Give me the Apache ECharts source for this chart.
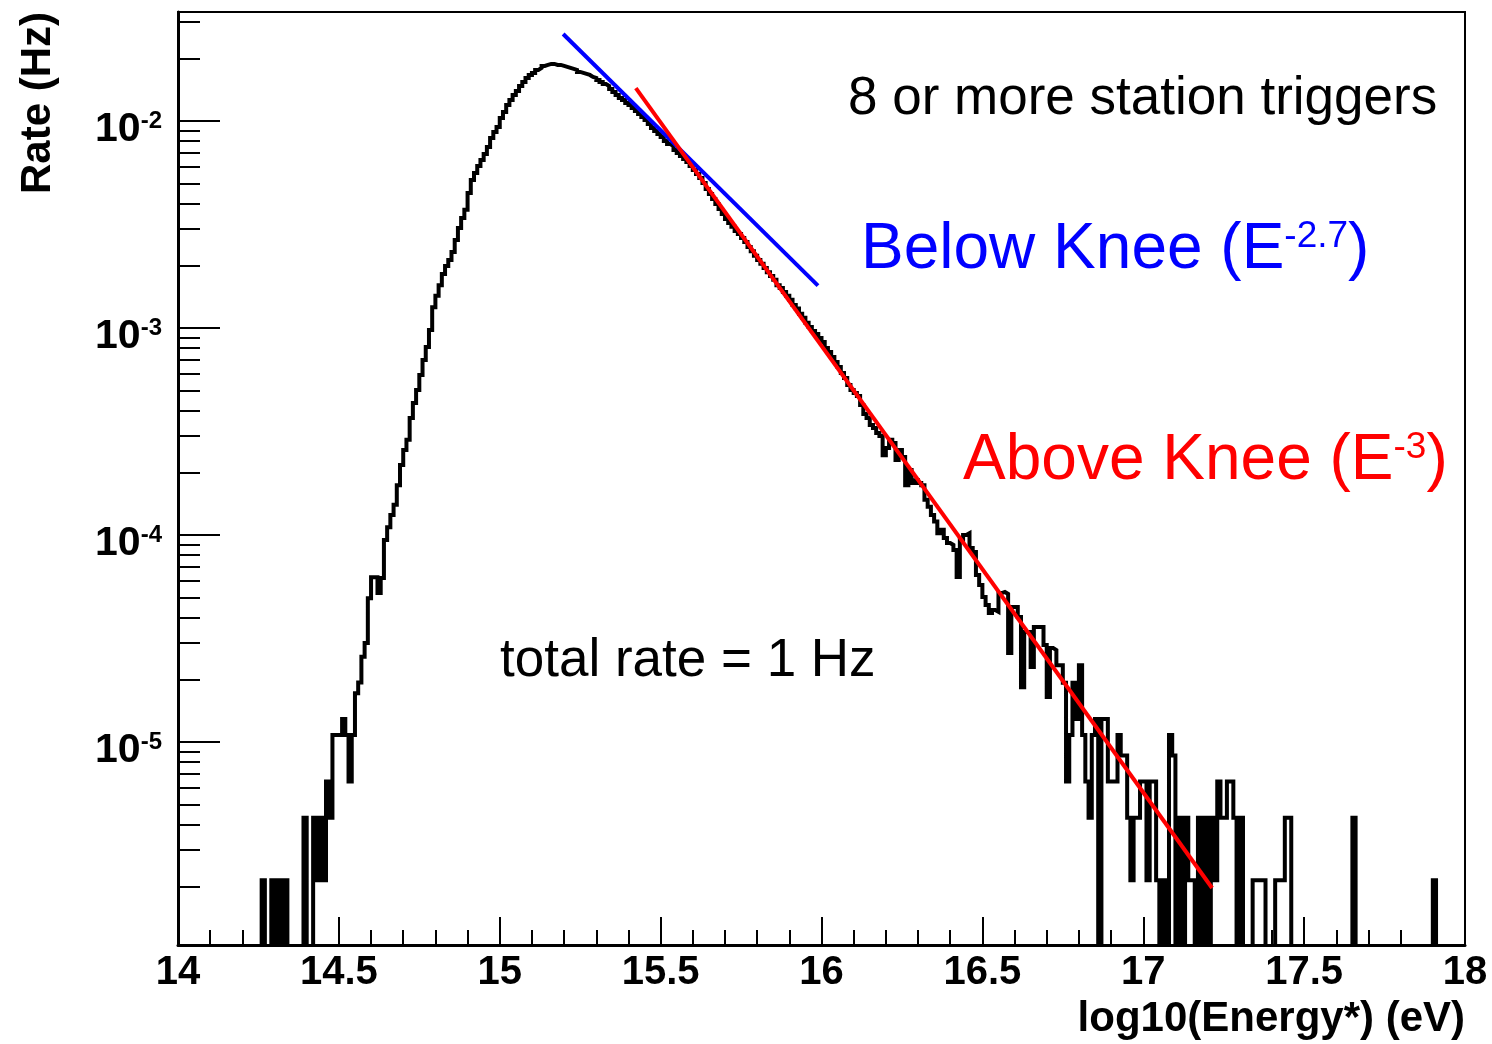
<!DOCTYPE html>
<html>
<head>
<meta charset="utf-8">
<title>Rate vs log10(Energy*)</title>
<script src="https://cdn.jsdelivr.net/npm/echarts@6/dist/echarts.min.js"></script>
<style>
  html, body { margin: 0; padding: 0; background: #fff; }
  #chart { width: 1492px; height: 1044px; }
</style>
</head>
<body>
<div id="chart"></div>
<script>
// histogram binning in log10(E): 400 bins of 0.01 from 14 to 18
const binStart = 14
const binWidth = 0.01

// rate (Hz) per bin, one array per unit of log10(E); 0 = empty bin
const rate14 = [
  0, 0, 0, 0, 0, 0, 0, 0, 0, 0,
  0, 0, 0, 0, 0, 0, 0, 0, 0, 0,
  0, 0, 0, 0, 0, 0, 2.15e-6, 0, 0, 2.15e-6,
  0, 2.15e-6, 0, 2.15e-6, 0, 0, 0, 0, 0, 4.3e-6,
  0, 0, 4.3e-6, 2.15e-6, 4.3e-6, 2.15e-6, 6.45e-6, 4.3e-6, 1.08e-5, 1.08e-5,
  1.08e-5, 1.29e-5, 1.08e-5, 6.45e-6, 1.08e-5, 1.72e-5, 1.94e-5, 2.58e-5, 3.01e-5, 4.95e-5,
  6.24e-5, 6.24e-5, 5.24e-5, 6.2e-5, 9.46e-5, 1.09e-4, 1.25e-4, 1.4e-4, 1.74e-4, 2.18e-4,
  2.57e-4, 2.88e-4, 3.67e-4, 4.34e-4, 5.02e-4, 5.93e-4, 7.0e-4, 8.09e-4, 9.78e-4, 1.26e-3,
  1.43e-3, 1.61e-3, 1.82e-3, 1.99e-3, 2.13e-3, 2.33e-3, 2.66e-3, 3.04e-3, 3.4e-3, 3.72e-3,
  4.49e-3, 5.19e-3, 5.61e-3, 6.06e-3, 6.48e-3, 6.93e-3, 7.49e-3, 8.28e-3, 8.85e-3, 9.35e-3
]
const rate15 = [
  1.034e-2, 1.105e-2, 1.195e-2, 1.263e-2, 1.335e-2, 1.396e-2, 1.476e-2, 1.543e-2, 1.614e-2, 1.668e-2,
  1.706e-2, 1.764e-2, 1.803e-2, 1.844e-2, 1.865e-2, 1.886e-2, 1.886e-2, 1.865e-2, 1.865e-2, 1.844e-2,
  1.824e-2, 1.803e-2, 1.783e-2, 1.764e-2, 1.725e-2, 1.706e-2, 1.687e-2, 1.668e-2, 1.632e-2, 1.614e-2,
  1.578e-2, 1.543e-2, 1.509e-2, 1.476e-2, 1.427e-2, 1.381e-2, 1.335e-2, 1.292e-2, 1.263e-2, 1.222e-2,
  1.195e-2, 1.156e-2, 1.118e-2, 1.081e-2, 1.045e-2, 1.011e-2, 9.67e-3, 9.25e-3, 8.95e-3, 8.65e-3,
  8.37e-3, 8.0e-3, 7.74e-3, 7.57e-3, 7.24e-3, 7.0e-3, 6.78e-3, 6.55e-3, 6.34e-3, 6.06e-3,
  5.8e-3, 5.55e-3, 5.3e-3, 5.02e-3, 4.69e-3, 4.44e-3, 4.2e-3, 3.97e-3, 3.76e-3, 3.55e-3,
  3.36e-3, 3.21e-3, 3.08e-3, 2.94e-3, 2.84e-3, 2.72e-3, 2.6e-3, 2.46e-3, 2.35e-3, 2.23e-3,
  2.13e-3, 2.04e-3, 1.95e-3, 1.86e-3, 1.78e-3, 1.71e-3, 1.61e-3, 1.56e-3, 1.49e-3, 1.43e-3,
  1.37e-3, 1.29e-3, 1.24e-3, 1.17e-3, 1.12e-3, 1.06e-3, 1.01e-3, 9.67e-4, 9.35e-4, 8.95e-4
]
const rate16 = [
  8.56e-4, 8.0e-4, 7.66e-4, 7.24e-4, 6.85e-4, 6.48e-4, 6.06e-4, 5.73e-4, 5.3e-4, 5.02e-4,
  4.85e-4, 4.69e-4, 4.25e-4, 3.84e-4, 3.67e-4, 3.4e-4, 3.29e-4, 3.11e-4, 3.01e-4, 2.43e-4,
  2.63e-4, 2.88e-4, 2.78e-4, 2.3e-4, 2.57e-4, 2.38e-4, 1.74e-4, 2.06e-4, 1.78e-4, 1.84e-4,
  1.78e-4, 1.74e-4, 1.48e-4, 1.37e-4, 1.25e-4, 1.16e-4, 1.02e-4, 1.06e-4, 9.67e-5, 9.15e-5,
  8.95e-5, 8.46e-5, 6.27e-5, 9.46e-5, 1.0e-4, 1.02e-4, 8.65e-5, 8.28e-5, 6.41e-5, 5.73e-5,
  5.02e-5, 4.59e-5, 4.2e-5, 4.34e-5, 4.25e-5, 5.24e-5, 5.3e-5, 5.19e-5, 2.69e-5, 4.49e-5,
  4.49e-5, 4.02e-5, 1.84e-5, 3.4e-5, 3.4e-5, 2.3e-5, 3.59e-5, 3.59e-5, 3.59e-5, 2.94e-5,
  1.65e-5, 2.84e-5, 2.78e-5, 2.35e-5, 2.35e-5, 1.93e-5, 6.45e-6, 1.08e-5, 1.93e-5, 1.29e-5,
  2.35e-5, 1.08e-5, 6.45e-6, 4.3e-6, 1.08e-5, 1.29e-5, 0, 1.29e-5, 1.29e-5, 6.45e-6,
  6.45e-6, 6.45e-6, 1.08e-5, 8.6e-6, 8.6e-6, 4.3e-6, 2.15e-6, 4.3e-6, 4.3e-6, 6.45e-6
]
const rate17 = [
  6.45e-6, 2.15e-6, 6.45e-6, 6.45e-6, 2.15e-6, 0, 2.15e-6, 0, 1.08e-5, 8.6e-6,
  0, 4.3e-6, 0, 4.3e-6, 2.15e-6, 2.15e-6, 0, 4.3e-6, 0, 4.3e-6,
  0, 4.3e-6, 2.15e-6, 6.45e-6, 4.3e-6, 4.3e-6, 6.45e-6, 6.45e-6, 4.3e-6, 0,
  4.3e-6, 0, 0, 0, 2.15e-6, 2.15e-6, 2.15e-6, 2.15e-6, 0, 0,
  0, 2.15e-6, 2.15e-6, 2.15e-6, 4.3e-6, 4.3e-6, 0, 0, 0, 0,
  0, 0, 0, 0, 0, 0, 0, 0, 0, 0,
  0, 0, 0, 0, 0, 4.3e-6, 0, 0, 0, 0,
  0, 0, 0, 0, 0, 0, 0, 0, 0, 0,
  0, 0, 0, 0, 0, 0, 0, 0, 0, 0,
  2.15e-6, 0, 0, 0, 0, 0, 0, 0, 0, 0
]

// power-law guide lines, [log10(E), rate]
const belowKnee = [[15.197, 0.0263], [15.989, 0.0016]]
const aboveKnee = [[15.423, 0.0144], [17.214, 1.97e-6]]

// axis ranges and ticks
const xMin = 14
const xMax = 18
const yMin = 1.045e-6
const yMax = 0.0336
const yDecades = [-6, -5, -4, -3, -2]
const yLabelled = [-5, -4, -3, -2]
const yMinorDigits = [2, 3, 4, 5, 6, 7, 8, 9]

const FONT = '"Liberation Sans", Arial, Helvetica, sans-serif'
const EMPTY = 1e-9 // empty bins drop below the frame, like ROOT on a log axis

const rates = rate14.concat(rate15, rate16, rate17)
const histData = rates.map((r, i) => [binStart + i * binWidth, r > 0 ? r : EMPTY])
const lastRate = rates[rates.length - 1]
histData.push([binStart + rates.length * binWidth, lastRate > 0 ? lastRate : EMPTY])

const logMin = Math.log10(yMin)
const logMax = Math.log10(yMax)
const yMinor = []
yDecades.forEach(n => yMinorDigits.forEach(k => {
  const v = n + Math.log10(k)
  if (v > logMin && v < logMax) yMinor.push(v)
}))

const chart = echarts.init(document.getElementById('chart'))

const option = {
  animation: false,
  backgroundColor: '#fff',
  grid: {
    left: 178, right: 27, top: 12, bottom: 99,
    show: true, borderColor: '#000', borderWidth: 2,
    outerBoundsMode: 'none'
  },
  xAxis: {
    type: 'value',
    min: xMin,
    max: xMax,
    interval: 0.5,
    axisLine: { lineStyle: { color: '#000', width: 3 } },
    axisTick: { inside: true, length: 28, lineStyle: { color: '#000', width: 2 } },
    minorTick: { show: true, splitNumber: 5, length: 15, lineStyle: { color: '#000', width: 2 } },
    axisLabel: {
      margin: 8, color: '#000', fontSize: 40, fontWeight: 'bold', fontFamily: FONT
    },
    splitLine: { show: false },
    minorSplitLine: { show: false }
  },
  yAxis: [
    // log scale that carries the histogram and the fit lines
    { type: 'log', logBase: 10, min: yMin, max: yMax, show: false },
    // decade ticks and labels, drawn in log10 units over the same range
    {
      type: 'value', min: logMin, max: logMax, position: 'left',
      axisLine: { show: true, lineStyle: { color: '#000', width: 3 } },
      axisTick: {
        show: true, inside: true, length: 42, customValues: yLabelled,
        lineStyle: { color: '#000', width: 2 }
      },
      axisLabel: {
        customValues: yLabelled,
        margin: 16,
        padding: [18, 0, 0, 0],
        formatter: v => '{b|10}{s|' + v + '}',
        rich: {
          b: { fontSize: 41, fontWeight: 'bold', fontFamily: FONT, color: '#000' },
          s: { fontSize: 24, fontWeight: 'bold', fontFamily: FONT, color: '#000', verticalAlign: 'top' }
        }
      },
      splitLine: { show: false }
    },
    // minor ticks at 2..9 x 10^n
    {
      type: 'value', min: logMin, max: logMax, position: 'left',
      axisLine: { show: false },
      axisTick: {
        show: true, inside: true, length: 22, customValues: yMinor,
        lineStyle: { color: '#000', width: 2 }
      },
      axisLabel: { show: false },
      splitLine: { show: false }
    }
  ],
  series: [
    {
      type: 'line',
      yAxisIndex: 0,
      data: histData,
      step: 'end',
      symbol: 'none',
      clip: true,
      silent: true,
      lineStyle: { color: '#000', width: 4, join: 'miter' },
      z: 2
    },
    {
      type: 'line',
      yAxisIndex: 0,
      data: belowKnee,
      symbol: 'none',
      silent: true,
      lineStyle: { color: '#0000ff', width: 4 },
      z: 3
    },
    {
      type: 'line',
      yAxisIndex: 0,
      data: aboveKnee,
      symbol: 'none',
      silent: true,
      lineStyle: { color: '#ff0000', width: 4 },
      z: 4
    }
  ],
  graphic: [
    {
      type: 'text', x: 38, y: 103, rotation: Math.PI / 2,
      style: {
        text: 'Rate (Hz)', fill: '#000', align: 'center', verticalAlign: 'middle',
        font: 'bold 42px ' + FONT
      }
    },
    {
      type: 'text', x: 1465, y: 1019,
      style: {
        text: 'log10(Energy*) (eV)', fill: '#000', align: 'right', verticalAlign: 'middle',
        font: 'bold 42px ' + FONT
      }
    },
    {
      type: 'text', x: 848, y: 99,
      style: {
        text: '8 or more station triggers', fill: '#000', align: 'left', verticalAlign: 'middle',
        font: '53px ' + FONT
      }
    },
    {
      type: 'text', x: 861, y: 250,
      style: {
        text: '{m|Below Knee (E}{s|-2.7}{m|)}', align: 'left', verticalAlign: 'middle',
        rich: {
          m: { fontSize: 64, fontFamily: FONT, fill: '#0000ff' },
          s: { fontSize: 37, fontFamily: FONT, fill: '#0000ff', verticalAlign: 'top' }
        }
      }
    },
    {
      type: 'text', x: 963, y: 461,
      style: {
        text: '{m|Above Knee (E}{s|-3}{m|)}', align: 'left', verticalAlign: 'middle',
        rich: {
          m: { fontSize: 64, fontFamily: FONT, fill: '#ff0000' },
          s: { fontSize: 37, fontFamily: FONT, fill: '#ff0000', verticalAlign: 'top' }
        }
      }
    },
    {
      type: 'text', x: 500, y: 661,
      style: {
        text: 'total rate = 1 Hz', fill: '#000', align: 'left', verticalAlign: 'middle',
        font: '53px ' + FONT
      }
    }
  ]
}

chart.setOption(option)
</script>
</body>
</html>
